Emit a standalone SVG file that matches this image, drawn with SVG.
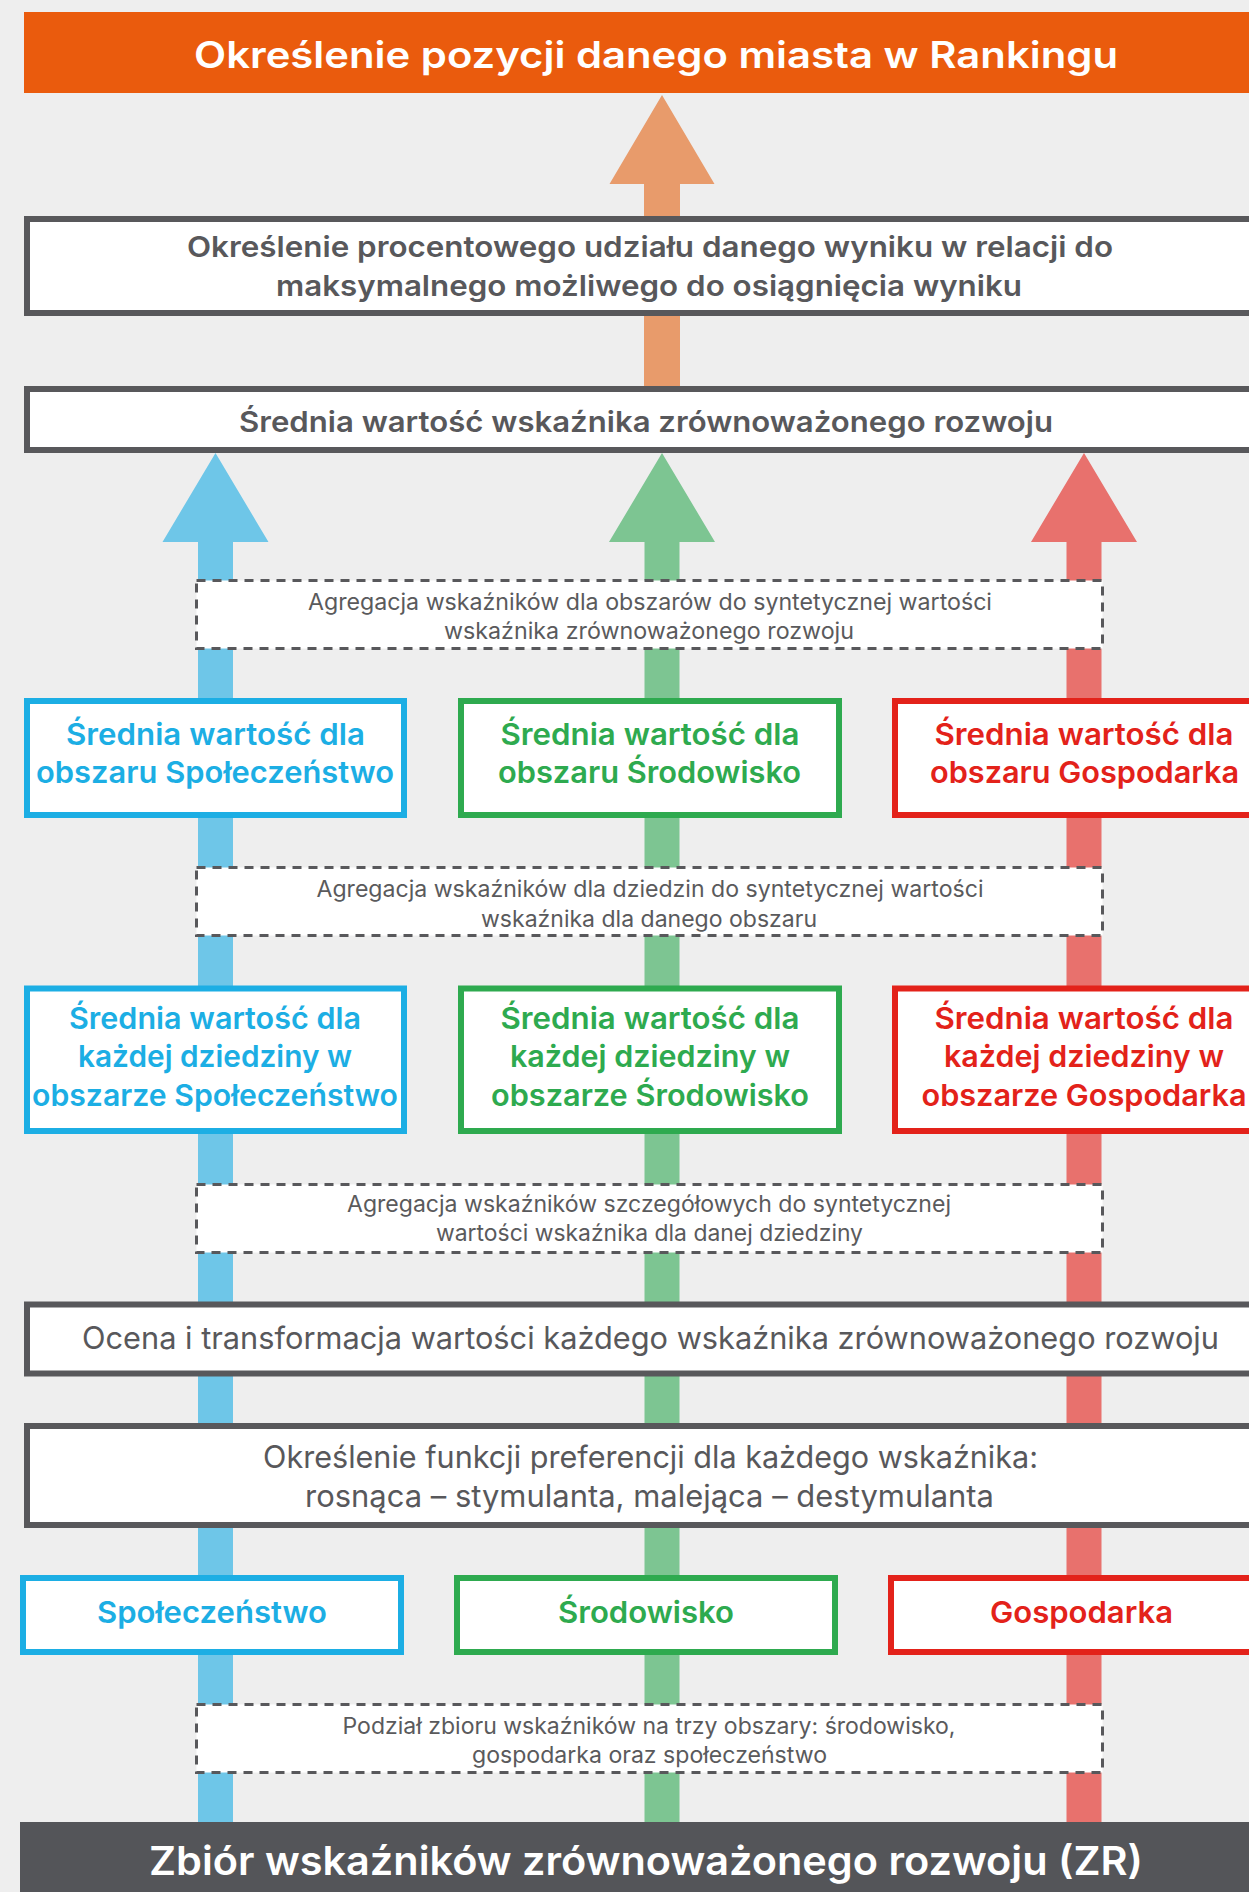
<svg xmlns="http://www.w3.org/2000/svg" width="1249" height="1892" viewBox="0 0 1249 1892">
<style>
.bg{fill:#EEEEEE}
.dark{fill:#FFFFFF;stroke:#58585B;stroke-width:6}
.dash{fill:#FFFFFF;stroke:#58585B;stroke-width:3;stroke-dasharray:9 7}
.cb{fill:#FFFFFF;stroke:#1CAEE4;stroke-width:6}
.cg{fill:#FFFFFF;stroke:#2EAA4F;stroke-width:6}
.cr{fill:#FFFFFF;stroke:#E3221A;stroke-width:6}
text{font-family:Inter,"Noto Sans","DejaVu Sans",sans-serif;text-anchor:middle}
.tb{font-weight:600;fill:#58585B;font-size:29px}
.tr{font-weight:400;fill:#58585B;font-size:31px}
.ts{font-weight:400;fill:#5A5A5C;font-size:22.5px}
.tblue{font-weight:600;fill:#1CAEE4;font-size:30px}
.tgreen{font-weight:600;fill:#2EAA4F;font-size:30px}
.tred{font-weight:600;fill:#E3221A;font-size:30px}
.tw{font-weight:600;fill:#FFFFFF}
</style>
<rect class="bg" x="0" y="0" width="1249" height="1892"/>
<g id="connectors">
<polygon fill="#E89B6B" points="662,95 714.5,184 680,184 680,390 644,390 644,184 609.5,184"/>
<polygon fill="#6EC6E8" points="215.5,453 268.5,542 233,542 233,1824 198,1824 198,542 162.5,542"/>
<polygon fill="#7DC592" points="662,453 715,542 679.5,542 679.5,1824 644.5,1824 644.5,542 609,542"/>
<polygon fill="#E8716D" points="1084,453 1137,542 1101.5,542 1101.5,1824 1066.5,1824 1066.5,542 1031,542"/>
</g>
<g id="node-ranking">
<rect x="24" y="12" width="1240" height="81" fill="#EA5B0D"/>
<text class="tw" x="656" y="68" font-size="37" textLength="924" lengthAdjust="spacingAndGlyphs">Określenie pozycji danego miasta w Rankingu</text>
</g>
<g id="node-procent">
<rect class="dark" x="27" y="219" width="1240" height="94"/>
<text class="tb" x="650" y="256.5" textLength="926" lengthAdjust="spacingAndGlyphs">Określenie procentowego udziału danego wyniku w relacji do</text>
<text class="tb" x="649" y="295.5" textLength="746" lengthAdjust="spacingAndGlyphs">maksymalnego możliwego do osiągnięcia wyniku</text>
</g>
<g id="node-srednia-zr">
<rect class="dark" x="27" y="389" width="1240" height="61"/>
<text class="tb" x="646" y="432" textLength="814" lengthAdjust="spacingAndGlyphs">Średnia wartość wskaźnika zrównoważonego rozwoju</text>
</g>
<g id="node-agregacja-obszary">
<rect class="dash" x="196.5" y="580.5" width="906" height="68"/>
<text class="ts" x="650" y="609.5" textLength="684" lengthAdjust="spacingAndGlyphs">Agregacja wskaźników dla obszarów do syntetycznej wartości</text>
<text class="ts" x="649" y="639" textLength="410" lengthAdjust="spacingAndGlyphs">wskaźnika zrównoważonego rozwoju</text>
</g>
<g id="node-obszar-spol">
<rect class="cb" x="27" y="701" width="377" height="114"/>
<text class="tblue" x="215.5" y="745" textLength="299" lengthAdjust="spacingAndGlyphs">Średnia wartość dla</text>
<text class="tblue" x="215" y="783" textLength="358" lengthAdjust="spacingAndGlyphs">obszaru Społeczeństwo</text>
</g>
<g id="node-obszar-srod">
<rect class="cg" x="461" y="701" width="378" height="114"/>
<text class="tgreen" x="650" y="745" textLength="299" lengthAdjust="spacingAndGlyphs">Średnia wartość dla</text>
<text class="tgreen" x="649.5" y="783" textLength="303" lengthAdjust="spacingAndGlyphs">obszaru Środowisko</text>
</g>
<g id="node-obszar-gosp">
<rect class="cr" x="895" y="701" width="378" height="114"/>
<text class="tred" x="1084" y="745" textLength="299" lengthAdjust="spacingAndGlyphs">Średnia wartość dla</text>
<text class="tred" x="1084.5" y="783" textLength="309" lengthAdjust="spacingAndGlyphs">obszaru Gospodarka</text>
</g>
<g id="node-agregacja-dziedziny">
<rect class="dash" x="196.5" y="867.5" width="906" height="68"/>
<text class="ts" x="650" y="897" textLength="667" lengthAdjust="spacingAndGlyphs">Agregacja wskaźników dla dziedzin do syntetycznej wartości</text>
<text class="ts" x="649" y="926.5" textLength="336" lengthAdjust="spacingAndGlyphs">wskaźnika dla danego obszaru</text>
</g>
<g id="node-dziedzina-spol">
<rect class="cb" x="27" y="988.5" width="377" height="142.5"/>
<text class="tblue" x="215" y="1029" textLength="292" lengthAdjust="spacingAndGlyphs">Średnia wartość dla</text>
<text class="tblue" x="215" y="1067" textLength="274" lengthAdjust="spacingAndGlyphs">każdej dziedziny w</text>
<text class="tblue" x="215" y="1106" textLength="366" lengthAdjust="spacingAndGlyphs">obszarze Społeczeństwo</text>
</g>
<g id="node-dziedzina-srod">
<rect class="cg" x="461" y="988.5" width="378" height="142.5"/>
<text class="tgreen" x="650" y="1029" textLength="299" lengthAdjust="spacingAndGlyphs">Średnia wartość dla</text>
<text class="tgreen" x="650" y="1067" textLength="280" lengthAdjust="spacingAndGlyphs">każdej dziedziny w</text>
<text class="tgreen" x="650" y="1106" textLength="318" lengthAdjust="spacingAndGlyphs">obszarze Środowisko</text>
</g>
<g id="node-dziedzina-gosp">
<rect class="cr" x="895" y="988.5" width="378" height="142.5"/>
<text class="tred" x="1084" y="1029" textLength="299" lengthAdjust="spacingAndGlyphs">Średnia wartość dla</text>
<text class="tred" x="1084" y="1067" textLength="280" lengthAdjust="spacingAndGlyphs">każdej dziedziny w</text>
<text class="tred" x="1084" y="1106" textLength="325" lengthAdjust="spacingAndGlyphs">obszarze Gospodarka</text>
</g>
<g id="node-agregacja-szczeg">
<rect class="dash" x="196.5" y="1184.5" width="906" height="68"/>
<text class="ts" x="649" y="1211.5" textLength="604" lengthAdjust="spacingAndGlyphs">Agregacja wskaźników szczegółowych do syntetycznej</text>
<text class="ts" x="649.5" y="1241" textLength="427" lengthAdjust="spacingAndGlyphs">wartości wskaźnika dla danej dziedziny</text>
</g>
<g id="node-ocena">
<rect class="dark" x="27" y="1304.5" width="1240" height="69"/>
<text class="tr" x="650.5" y="1349" textLength="1137" lengthAdjust="spacingAndGlyphs">Ocena i transformacja wartości każdego wskaźnika zrównoważonego rozwoju</text>
</g>
<g id="node-preferencje">
<rect class="dark" x="27" y="1426" width="1240" height="99"/>
<text class="tr" x="650.5" y="1468" textLength="775" lengthAdjust="spacingAndGlyphs">Określenie funkcji preferencji dla każdego wskaźnika:</text>
<text class="tr" x="649.5" y="1506.5" textLength="689" lengthAdjust="spacingAndGlyphs">rosnąca – stymulanta, malejąca – destymulanta</text>
</g>
<g id="node-spoleczenstwo">
<rect class="cb" x="23" y="1578" width="378" height="74"/>
<text class="tblue" x="212" y="1623" textLength="230" lengthAdjust="spacingAndGlyphs">Społeczeństwo</text>
</g>
<g id="node-srodowisko">
<rect class="cg" x="457" y="1578" width="378" height="74"/>
<text class="tgreen" x="646" y="1623" textLength="176" lengthAdjust="spacingAndGlyphs">Środowisko</text>
</g>
<g id="node-gospodarka">
<rect class="cr" x="891" y="1578" width="378" height="74"/>
<text class="tred" x="1081.5" y="1623" textLength="183" lengthAdjust="spacingAndGlyphs">Gospodarka</text>
</g>
<g id="node-podzial">
<rect class="dash" x="196.5" y="1704.5" width="906" height="68"/>
<text class="ts" x="649" y="1734" textLength="613" lengthAdjust="spacingAndGlyphs">Podział zbioru wskaźników na trzy obszary: środowisko,</text>
<text class="ts" x="649.5" y="1762.5" textLength="355" lengthAdjust="spacingAndGlyphs">gospodarka oraz społeczeństwo</text>
</g>
<g id="node-zbior">
<rect x="20" y="1822" width="1240" height="80" fill="#545559"/>
<text class="tw" x="646" y="1875" font-size="39.5" textLength="994" lengthAdjust="spacingAndGlyphs">Zbiór wskaźników zrównoważonego rozwoju (ZR)</text>
</g>
</svg>
